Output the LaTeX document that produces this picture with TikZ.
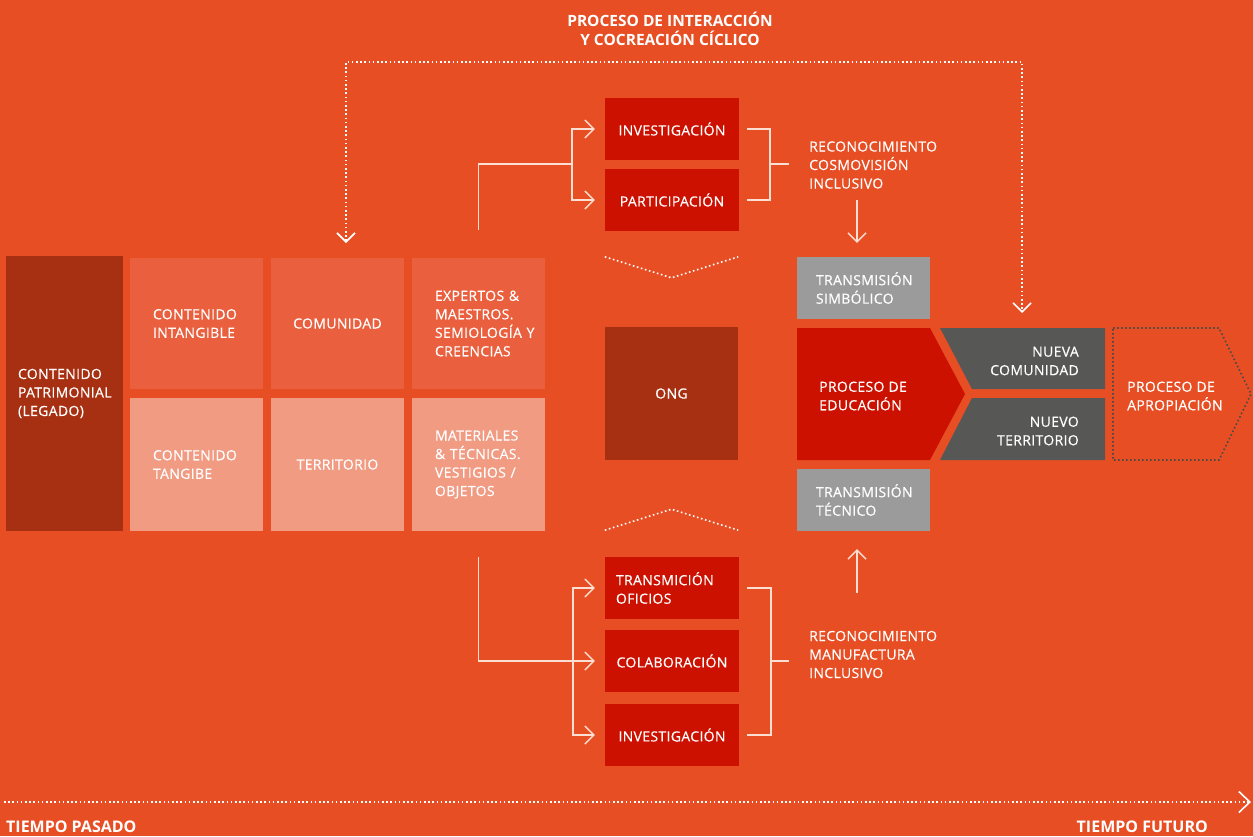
\documentclass[tikz,border=0pt]{standalone}
\usepackage{fontspec}
\setmainfont[FakeBold=0.4,LetterSpace=2.5]{Open Sans}
\newfontfamily\headfont{Open Sans}
\usetikzlibrary{positioning,arrows.meta,calc}

\definecolor{bgorange}{RGB}{232,78,36}
\definecolor{legado}{RGB}{168,48,18}
\definecolor{intang}{RGB}{234,96,62}
\definecolor{tang}{RGB}{241,155,131}
\definecolor{actred}{RGB}{205,17,0}
\definecolor{greybox}{RGB}{155,155,155}
\definecolor{darkgrey}{RGB}{87,87,85}
\definecolor{lineclr}{RGB}{252,222,210}

\begin{document}
\begin{tikzpicture}[x=1pt, y=-1pt,
    font=\fontsize{14}{18.5}\selectfont,
    cell/.style={fill=#1, text=white, inner sep=0pt, minimum width=133pt, minimum height=131pt},
    lcell/.style={cell=#1, text width=87pt, align=left},
    ccell/.style={cell=#1, align=center},
    act/.style={fill=actred, text=white, inner sep=0pt, minimum width=134pt, minimum height=62pt, align=center},
    gbox/.style={fill=greybox, text=white, inner sep=0pt, minimum width=133pt, minimum height=62pt, text width=95pt, align=left},
    txt/.style={text=white, inner sep=0pt, align=left},
    bold/.style={txt, font=\headfont\fontsize{16}{19}\selectfont\bfseries},
    wire/.style={draw=lineclr, line width=1.4pt},
    arr/.style={wire, -{Straight Barb[length=9pt,width=18pt]}, shorten >=10pt},
    dotline/.style={draw=white, line width=1.6pt, dash pattern=on 1.6pt off 2.6pt},
    aprobox/.style={draw=darkgrey!85!black, line width=1.6pt, dash pattern=on 1.6pt off 2.4pt}]

    \fill[bgorange] (0,0) rectangle (1253,836);
    \useasboundingbox (0,0) rectangle (1253,836);

    % title
    \node[bold, align=center, font=\headfont\fontsize{15.5}{19}\selectfont\bfseries] (title) at (670,28.5) {PROCESO DE INTERACCIÓN\\Y COCREACIÓN CÍCLICO};

    % legado
    \node[cell=legado, minimum width=117pt, minimum height=275pt, text width=93pt, align=left] (legado) at (64.5,393.5) {CONTENIDO\\PATRIMONIAL\\(LEGADO)};
    \node[lcell=intang] (intang) at (196.5,323.5) {CONTENIDO\\INTANGIBLE};
    \node[ccell=intang] (comun) at (337.5,323.5) {COMUNIDAD};
    \node[lcell=intang] (expert) at (478.5,323.5) {EXPERTOS~\&\\MAESTROS.\\SEMIOLOGÍA~Y\\CREENCIAS};
    \node[lcell=tang, minimum height=133pt] (tangib) at (196.5,464.5) {CONTENIDO\\TANGIBE};
    \node[ccell=tang, minimum height=133pt] (territ) at (337.5,464.5) {TERRITORIO};
    \node[lcell=tang, minimum height=133pt] (mater) at (478.5,464.5) {MATERIALES\\\&~TÉCNICAS.\\VESTIGIOS~/\\OBJETOS};

    % ong and actions
    \node[act] (inv1) at (672,129) {INVESTIGACIÓN};
    \node[act] (part) at (672,200) {PARTICIPACIÓN};
    \node[cell=legado, minimum height=133pt] (ong) at (671.5,393.5) {ONG};
    \node[act, text width=112pt, align=left] (ofic) at (672,588) {TRANSMICIÓN\\OFICIOS};
    \node[act] (colab) at (672,661) {COLABORACIÓN};
    \node[act] (inv2) at (672,735) {INVESTIGACIÓN};

    \draw[dotline] ([yshift=70pt]ong.north west) -- ([yshift=49pt]ong.north) -- ([yshift=70pt]ong.north east);
    \draw[dotline] ([yshift=-70pt]ong.south west) -- ([yshift=-49pt]ong.south) -- ([yshift=-70pt]ong.south east);

    % forks
    \coordinate (forkT) at (572,164);
    \draw[wire] ([yshift=28pt]expert.north) |- (forkT);
    \draw[arr] (forkT) |- (inv1);
    \draw[arr] (forkT) |- (part);
    \coordinate (forkB) at (573,661);
    \draw[arr] ([yshift=-26pt]mater.south) |- (colab);
    \draw[arr] (forkB) |- (ofic);
    \draw[arr] (forkB) |- (inv2);

    % brackets
    \coordinate (brA) at (770,164);
    \draw[wire] ([xshift=8pt]inv1.east) -| (brA) |- ([xshift=8pt]part.east);
    \draw[wire] (brA) -- ++(19,0);
    \coordinate (brB) at (771,661);
    \draw[wire] ([xshift=8pt]ofic.east) -| (brB) |- ([xshift=8pt]inv2.east);
    \draw[wire] (brB) -- ++(18,0);

    \node[txt, anchor=west] (recA) at (809,165) {RECONOCIMIENTO\\COSMOVISIÓN\\INCLUSIVO};
    \node[txt, anchor=west] (recB) at (809,654.5) {RECONOCIMIENTO\\MANUFACTURA\\INCLUSIVO};

    % transmision
    \node[gbox] (simb) at (863.5,288) {TRANSMISIÓN\\SIMBÓLICO};
    \node[gbox] (tecn) at (863.5,500) {TRANSMISIÓN\\TÉCNICO};
    \draw[wire, -{Straight Barb[length=9pt,width=18pt]}] ($(simb.north)+(-6.5,-57)$) -- ($(simb.north)+(-6.5,-14)$);
    \draw[wire, -{Straight Barb[length=9pt,width=18pt]}] ($(tecn.south)+(-6.5,62)$) -- ($(tecn.south)+(-6.5,18)$);

    % educacion
    \fill[actred] (797,328) -- (930,328) -- (965,394) -- (930,460) -- (797,460) -- cycle;
    \node[txt, anchor=west] (edu) at (819,396) {PROCESO DE\\EDUCACIÓN};
    \fill[darkgrey] (940,328) -- (1105,328) -- (1105,389) -- (972,389) -- cycle;
    \node[txt, align=right, anchor=east] (ncom) at (1079,361) {NUEVA\\COMUNIDAD};
    \fill[darkgrey] (972,398) -- (1105,398) -- (1105,460) -- (940,460) -- cycle;
    \node[txt, align=right, anchor=east] (nter) at (1079,431) {NUEVO\\TERRITORIO};
    \draw[aprobox] (1113,328) -- (1219,328) -- (1251,394) -- (1219,460) -- (1113,460) -- cycle;
    \node[txt, anchor=west] (apropia) at (1127,396) {PROCESO DE\\APROPIACIÓN};

    % loop
    \coordinate (loopL) at (346,243);
    \coordinate (loopT) at (684,62);
    \coordinate (loopR) at (1022,313);
    \draw[dotline, {Straight Barb[length=9pt,width=18pt]}-{Straight Barb[length=9pt,width=18pt]}] (loopL) |- (loopT) -| (loopR);

    % tiempo
    \node[bold, anchor=base west] (past) at (6,832) {TIEMPO PASADO};
    \node[bold, anchor=base east] (future) at (1208,832) {TIEMPO FUTURO};
    \coordinate (axisL) at (4,802);
    \coordinate (axisR) at (1251,802);
    \draw[dotline, -{Straight Barb[length=11pt,width=21pt]}] (axisL) -- (axisR);
\end{tikzpicture}
\end{document}
